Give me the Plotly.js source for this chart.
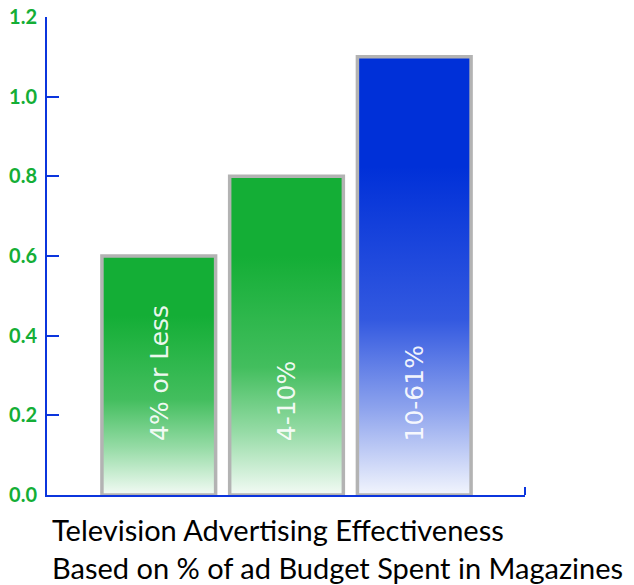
<!DOCTYPE html>
<html>
<head>
<meta charset="utf-8">
<script src="https://cdn.plot.ly/plotly-3.0.1.min.js"></script>
<style>
html,body{margin:0;padding:0;background:#fff;}
#chart{width:634px;height:585px;}
</style>
</head>
<body>
<div id="chart"></div>
<script>
// ---- data ----
var categories = ["4% or Less", "4-10%", "10-61%"];
var values = [0.6, 0.8, 1.1];
var barColors = ["#14ae36", "#14ae36", "#0030d8"];
var tickValues = [0, 0.2, 0.4, 0.6, 0.8, 1.0, 1.2];
var tickLabels = ["0.0", "0.2", "0.4", "0.6", "0.8", "1.0", "1.2"];
var labelBase = 0.13;
var titleLines = ["Television Advertising Effectiveness", "Based on % of ad Budget Spent in Magazines"];

var xIdx = categories.map(function (c, i) { return i; });

var trace = {
  type: "bar",
  x: xIdx,
  y: values,
  marker: { color: barColors, line: { color: "#b3b3b3", width: 3.5 } },
  hoverinfo: "skip",
  showlegend: false
};

var pw = 634 - 47 - 109, ph = 585 - 17 - 90;

var annotations = categories.map(function (c, i) {
  return {
    x: xIdx[i], y: labelBase, xref: "x", yref: "y",
    text: c, showarrow: false, textangle: -90,
    xanchor: "center", yanchor: "bottom",
    font: { family: "DejaVu Sans", size: 25, color: "rgba(255,255,255,0.93)" }
  };
});
annotations.push({
  x: (50 - 47) / pw, y: (585 - 90 - 510) / ph, xref: "paper", yref: "paper",
  text: titleLines.join("<br>"), showarrow: false, align: "left",
  xanchor: "left", yanchor: "top",
  font: { family: "Lato", size: 29, color: "#000" }
});

var layout = {
  width: 634, height: 585,
  margin: { l: 47, r: 109, t: 17, b: 90, pad: 0 },
  paper_bgcolor: "#fff", plot_bgcolor: "#fff",
  bargap: 0.11,
  xaxis: {
    range: [-0.875, 2.867], showgrid: false, zeroline: false,
    showticklabels: false, ticks: "", showline: true,
    linecolor: "#0b35dd", linewidth: 2, layer: "below traces", fixedrange: true
  },
  yaxis: {
    range: [0, 1.2], tickvals: tickValues, ticktext: tickLabels,
    showgrid: false, zeroline: false, showline: true,
    linecolor: "#0b35dd", linewidth: 2,
    ticks: "inside", ticklen: 12, tickwidth: 2, tickcolor: "#0b35dd",
    ticklabelstandoff: 4,
    tickfont: { family: "Lato", size: 20, color: "#14ae36", weight: "bold" },
    layer: "below traces", fixedrange: true
  },
  shapes: [{
    type: "line", xref: "paper", yref: "paper",
    x0: 1, x1: 1, ysizemode: "pixel", yanchor: 0, y0: 0, y1: 8,
    line: { color: "#0b35dd", width: 2 }
  }],
  annotations: annotations
};

Plotly.newPlot("chart", [trace], layout, { displayModeBar: false, staticPlot: true }).then(function (gd) {
  var svg = gd.querySelector(".main-svg");
  var defs = svg.querySelector("defs");
  var ns = "http://www.w3.org/2000/svg";
  var paths = gd.querySelectorAll(".trace.bars .point path");
  paths.forEach(function (p, i) {
    var col = barColors[i];
    var g = document.createElementNS(ns, "linearGradient");
    g.setAttribute("id", "barGrad" + i);
    g.setAttribute("x1", "0"); g.setAttribute("y1", "0");
    g.setAttribute("x2", "0"); g.setAttribute("y2", "1");
    var stops = [[0, col, 0], [0.25, col, 0], [0.6, col, 0.2], [0.8, col, 0.55], [1, col, 0.95]];
    stops.forEach(function (s) {
      var st = document.createElementNS(ns, "stop");
      st.setAttribute("offset", s[0]);
      var r = parseInt(s[1].substr(1, 2), 16), gg = parseInt(s[1].substr(3, 2), 16), b = parseInt(s[1].substr(5, 2), 16);
      var m = s[2];
      var c = "rgb(" + Math.round(r + (255 - r) * m) + "," + Math.round(gg + (255 - gg) * m) + "," + Math.round(b + (255 - b) * m) + ")";
      st.setAttribute("stop-color", c);
      g.appendChild(st);
    });
    defs.appendChild(g);
    p.style.fill = "url(#barGrad" + i + ")";
  });
});
</script>
</body>
</html>
